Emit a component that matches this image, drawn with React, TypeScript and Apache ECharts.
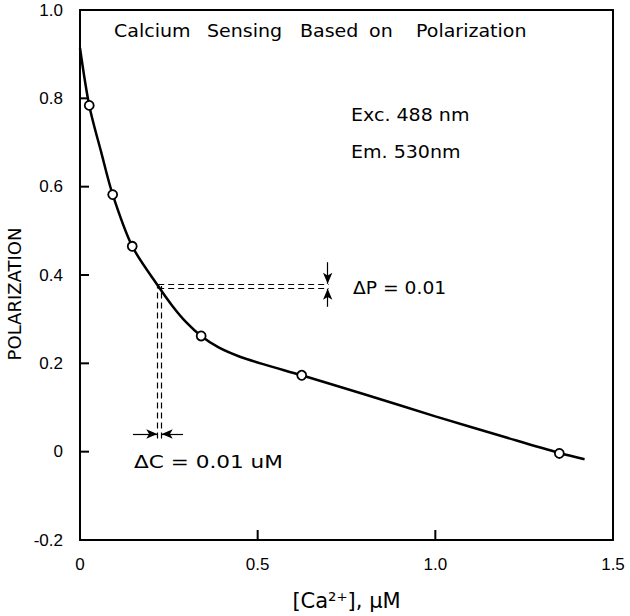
import React, { useEffect, useRef } from "react";
import * as echarts from "echarts";

// smooth fitted curve
const curveX = [0, 0.026, 0.06, 0.092, 0.147, 0.22, 0.26, 0.3, 0.341, 0.39, 0.45, 0.52, 0.624, 0.8, 1.0, 1.2, 1.349, 1.42];
const curveY = [0.914, 0.784, 0.677, 0.582, 0.465, 0.375, 0.33, 0.292, 0.262, 0.236, 0.215, 0.197, 0.173, 0.13, 0.08, 0.032, -0.003, -0.017];

// measured points (open circles)
const pointX = [0.026, 0.092, 0.147, 0.341, 0.624, 1.349];
const pointY = [0.784, 0.582, 0.465, 0.262, 0.173, -0.004];

// annotation geometry in data units
const dPLevels = [0.38, 0.369];
const dPxRange = [0.22, 0.70];
const dCLevels = [0.2175, 0.23];
const dCyRange = [0.03, 0.375];
const dPArrowX = 0.697;
const dPArrowFrom = [0.429, 0.328];
const dCArrowY = 0.04;
const dCArrowFrom = [0.149, 0.29];

// inward tick marks
const xTickVals = [0.5, 1.0];
const yTickVals = [0, 0.2, 0.4, 0.6, 0.8];
const xMin = 0, xMax = 1.5, yMin = -0.2, yMax = 1.0;

const titleWords = ["Calcium", "Sensing", "Based", "on", "Polarization"];
const xTickLabels = ["0", "0.5", "1.0", "1.5"];

const FONT = "'Liberation Sans', Arial, sans-serif";
const FONT2 = "'DejaVu Sans', sans-serif";

export default function App() {
  const ref = useRef<HTMLDivElement>(null);
  useEffect(() => {
    if (!ref.current) return;
    const chart = echarts.init(ref.current, null, { renderer: "svg" });

    const dash = { color: "#000", width: 1.2, type: [6, 4] as any };
    const markData: any[] = [];
    dPLevels.forEach((y) =>
      markData.push([
        { coord: [dPxRange[0], y], symbol: "none", lineStyle: dash },
        { coord: [dPxRange[1], y], symbol: "none" },
      ])
    );
    dCLevels.forEach((x) =>
      markData.push([
        { coord: [x, dCyRange[0]], symbol: "none", lineStyle: dash },
        { coord: [x, dCyRange[1]], symbol: "none" },
      ])
    );
    const solid = { color: "#000", width: 1.2, type: "solid" };
    markData.push([
      { coord: [dPArrowX, dPArrowFrom[0]], symbol: "none", lineStyle: solid },
      { coord: [dPArrowX, dPLevels[0]], symbol: "arrow" },
    ]);
    markData.push([
      { coord: [dPArrowX, dPArrowFrom[1]], symbol: "none", lineStyle: solid },
      { coord: [dPArrowX, dPLevels[1]], symbol: "arrow" },
    ]);
    markData.push([
      { coord: [dCArrowFrom[0], dCArrowY], symbol: "none", lineStyle: solid },
      { coord: [dCLevels[0], dCArrowY], symbol: "arrow" },
    ]);
    markData.push([
      { coord: [dCArrowFrom[1], dCArrowY], symbol: "none", lineStyle: solid },
      { coord: [dCLevels[1], dCArrowY], symbol: "arrow" },
    ]);

    const titleX = [114, 207, 300, 369, 416];
    const textStyle = (t: string, size = 17) => ({
      text: t,
      fill: "#000",
      font: `${size}px ${FONT2}`,
      verticalAlign: "middle",
    });

    const axisLine = { show: true, onZero: false, lineStyle: { color: "#000", width: 2 } };

    chart.setOption({
      animation: false,
      backgroundColor: "#fff",
      grid: { left: 80, right: 17, top: 10, bottom: 74 },
      xAxis: [
        {
          type: "value",
          min: xMin,
          max: xMax,
          interval: 0.5,
          position: "bottom",
          name: "[Ca²⁺], μM",
          nameLocation: "middle",
          nameGap: 50,
          nameTextStyle: { fontSize: 21, color: "#000", fontFamily: FONT2 },
          axisLine,
          axisTick: { show: false },
          axisLabel: {
            color: "#000",
            fontSize: 17,
            fontFamily: FONT,
            margin: 16,
            formatter: (v: number) => xTickLabels[Math.round(v / 0.5)] ?? String(v),
          },
          splitLine: { show: false },
        },
        {
          type: "value",
          min: xMin,
          max: xMax,
          interval: 0.5,
          position: "top",
          axisLine,
          axisTick: { show: false },
          axisLabel: { show: false },
          splitLine: { show: false },
        },
      ],
      yAxis: [
        {
          type: "value",
          min: yMin,
          max: yMax,
          interval: 0.2,
          position: "left",
          axisLine,
          axisTick: { show: false },
          axisLabel: {
            color: "#000",
            fontSize: 17,
            fontFamily: FONT,
            margin: 17,
            formatter: (v: number) => (Math.abs(v) < 1e-9 ? "0" : v.toFixed(1)),
          },
          splitLine: { show: false },
        },
        {
          type: "value",
          min: yMin,
          max: yMax,
          interval: 0.2,
          position: "right",
          axisLine,
          axisTick: { show: false },
          axisLabel: { show: false },
          splitLine: { show: false },
        },
      ],
      series: [
        {
          type: "line",
          xAxisIndex: 0,
          yAxisIndex: 0,
          data: curveX.map((x, i) => [x, curveY[i]]),
          smooth: 0.3,
          showSymbol: false,
          symbol: "none",
          lineStyle: { color: "#000", width: 2.5 },
          silent: true,
          z: 2,
          markLine: {
            silent: true,
            symbol: ["none", "none"],
            symbolSize: [7, 11],
            label: { show: false },
            lineStyle: { color: "#000", width: 1.2 },
            data: markData,
          },
        },
        {
          type: "scatter",
          xAxisIndex: 0,
          yAxisIndex: 0,
          data: pointX.map((x, i) => [x, pointY[i]]),
          symbol: "circle",
          symbolSize: 9,
          itemStyle: { color: "#fff", borderColor: "#000", borderWidth: 1.8, opacity: 1 },
          z: 3,
        },
      ],
    });

    // inward ticks placed from the axis scales
    const tickLines: any[] = [];
    xTickVals.forEach((v) => {
      const p = chart.convertToPixel({ gridIndex: 0 }, [v, yMin]) as number[];
      tickLines.push({
        type: "line",
        z: 100,
        shape: { x1: p[0], y1: p[1], x2: p[0], y2: p[1] - 10 },
        style: { stroke: "#000", lineWidth: 2 },
      });
    });
    yTickVals.forEach((v) => {
      const p = chart.convertToPixel({ gridIndex: 0 }, [xMin, v]) as number[];
      tickLines.push({
        type: "line",
        z: 100,
        shape: { x1: p[0], y1: p[1], x2: p[0] + 9, y2: p[1] },
        style: { stroke: "#000", lineWidth: 2 },
      });
    });

    chart.setOption({
      graphic: [
        ...tickLines,
        ...titleWords.map((w, i) => ({
          type: "text",
          x: titleX[i],
          y: 31,
          scaleX: 1.12,
          style: textStyle(w, 17),
        })),
        { type: "text", x: 351, y: 115, scaleX: 1.12, style: textStyle("Exc. 488 nm", 17) },
        { type: "text", x: 351, y: 152, scaleX: 1.12, style: textStyle("Em. 530nm", 17) },
        { type: "text", x: 353, y: 288, scaleX: 1.1, style: textStyle("ΔP = 0.01", 17) },
        { type: "text", x: 134, y: 462, scaleX: 1.2, style: textStyle("ΔC = 0.01 uM", 18) },
        {
          type: "text",
          x: 14,
          y: 294,
          rotation: Math.PI / 2,
          style: { ...textStyle("POLARIZATION", 18), align: "center" },
        },
      ],
    });
    return () => chart.dispose();
  }, []);
  return (
    <div
      ref={ref}
      style={{ position: "fixed", left: 0, top: 0, width: 630, height: 616 }}
    />
  );
}
